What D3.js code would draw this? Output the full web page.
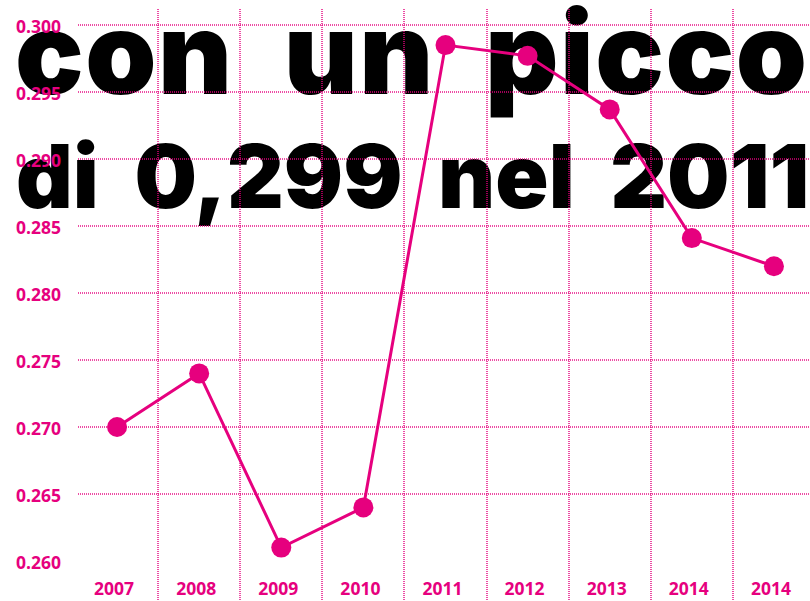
<!doctype html>
<html>
<head>
<meta charset="utf-8">
<script src="https://d3js.org/d3.v7.min.js"></script>
<style>
  body { margin: 0; background: #fff; }
  svg { display: block; }
</style>
</head>
<body>
<svg id="chart" width="810" height="601"></svg>
<script>
  // data
  const years = ["2007", "2008", "2009", "2010", "2011", "2012", "2013", "2014", "2014"];
  const gini = [0.270, 0.274, 0.261, 0.264, 0.2985, 0.2977, 0.2937, 0.2841, 0.2820];
  const yTicks = [0.260, 0.265, 0.270, 0.275, 0.280, 0.285, 0.290, 0.295, 0.300];
  const headline = ["con un picco", "di 0,299 nel 2011"];

  const PINK = "#e6007e";
  const W = 810, H = 601;

  const svg = d3.select("#chart");

  const x = d3.scaleBand()
    .domain(d3.range(years.length))
    .range([76, 815]);

  const y = d3.scaleLinear()
    .domain([0.260, 0.300])
    .range([561, 25]);

  // big headline behind everything
  const head = svg.append("g")
    .attr("font-family", "Inter, 'Open Sans', sans-serif")
    .attr("font-weight", 900)
    .attr("fill", "#000");
  head.append("text")
    .attr("x", 15).attr("y", 94)
    .attr("font-size", 114)
    .attr("letter-spacing", 1.5)
    .attr("word-spacing", 26)
    .text(headline[0]);
  head.append("text")
    .attr("x", 16).attr("y", 208)
    .attr("font-size", 88)
    .attr("letter-spacing", 0)
    .attr("word-spacing", 18)
    .text(headline[1]);

  // grid
  const grid = svg.append("g")
    .attr("stroke", PINK)
    .attr("stroke-opacity", 0.7)
    .attr("stroke-width", 2)
    .attr("stroke-dasharray", "1,1");

  grid.selectAll("line.h")
    .data(yTicks.filter(d => d > 0.2601))
    .join("line")
    .attr("class", "h")
    .attr("x1", 78).attr("x2", W)
    .attr("y1", d => Math.round(y(d)))
    .attr("y2", d => Math.round(y(d)));

  grid.selectAll("line.v")
    .data(d3.range(1, years.length))
    .join("line")
    .attr("class", "v")
    .attr("x1", d => Math.round(x(d)))
    .attr("x2", d => Math.round(x(d)))
    .attr("y1", 9).attr("y2", H);

  // axes (labels only)
  const yAxis = d3.axisLeft(y)
    .tickValues(yTicks)
    .tickFormat(d3.format(".3f"))
    .tickSize(0);
  const yg = svg.append("g")
    .attr("transform", "translate(16,0)")
    .call(yAxis);
  yg.select(".domain").remove();
  yg.selectAll("text")
    .attr("text-anchor", "start")
    .attr("x", 0)
    .attr("dy", "0.4em");

  const xAxis = d3.axisBottom(x)
    .tickFormat(i => years[i])
    .tickSize(0);
  const xg = svg.append("g")
    .attr("transform", "translate(-3,580)")
    .call(xAxis);
  xg.select(".domain").remove();

  svg.selectAll(".tick text")
    .attr("fill", PINK)
    .attr("font-family", "'Open Sans', sans-serif")
    .attr("font-weight", 700)
    .attr("font-size", 17.5);

  // line and points
  const line = d3.line()
    .x((d, i) => x(i) + x.bandwidth() / 2)
    .y(d => y(d));

  svg.append("path")
    .datum(gini)
    .attr("fill", "none")
    .attr("stroke", PINK)
    .attr("stroke-width", 3)
    .attr("d", line);

  svg.selectAll("circle")
    .data(gini)
    .join("circle")
    .attr("cx", (d, i) => x(i) + x.bandwidth() / 2)
    .attr("cy", d => y(d))
    .attr("r", 10)
    .attr("fill", PINK);
</script>
</body>
</html>
